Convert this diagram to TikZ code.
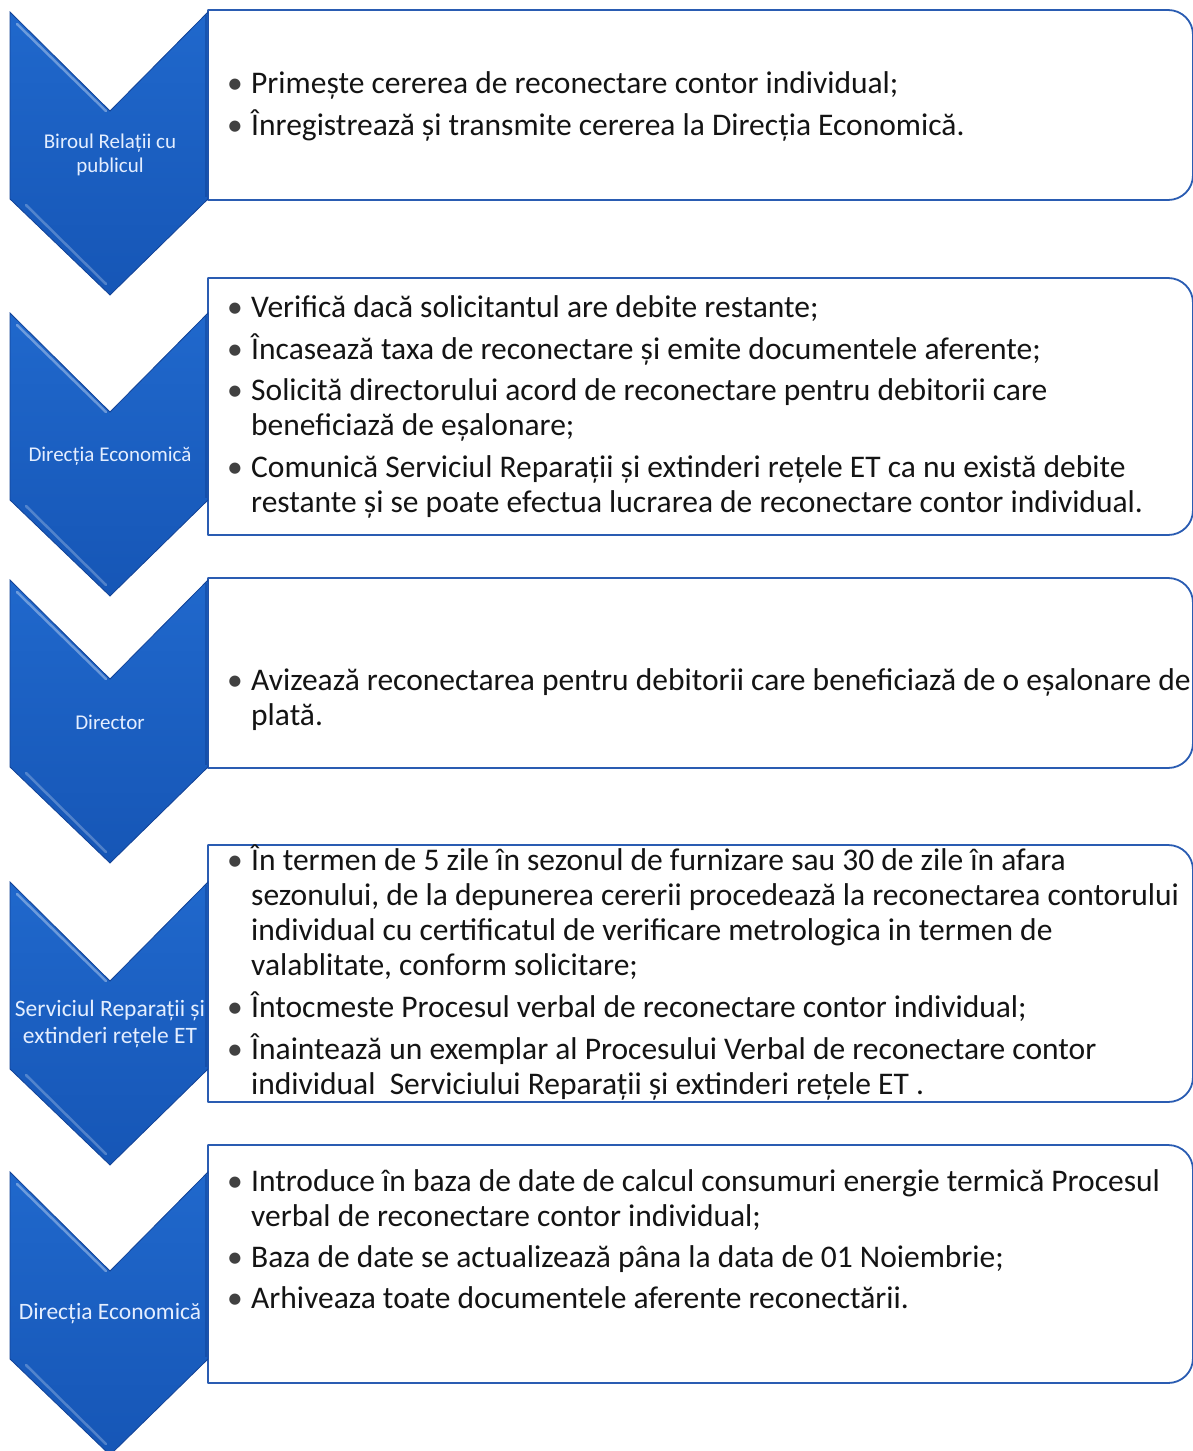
\documentclass[tikz,border=0pt]{standalone}
\usepackage{fontspec}
\setmainfont{Carlito}
\definecolor{chevtop}{RGB}{32,104,204}
\definecolor{chevbot}{RGB}{22,86,182}
\definecolor{chevedge}{RGB}{18,66,150}
\definecolor{boxline}{RGB}{42,92,178}
\definecolor{txtcol}{RGB}{20,20,20}
\definecolor{bulcol}{RGB}{65,65,65}
\definecolor{labcol}{RGB}{228,238,255}
\newcommand\bul{\makebox[24pt][l]{\textcolor{bulcol}{•}}}
\newcommand\chevron[1]{%
  \path[top color=chevtop,bottom color=chevbot,draw=chevedge,line width=0.8pt]
    (10,#1) -- (110,#1+99) -- (208,#1) -- (208,#1+187) -- (110,#1+283) -- (10,#1+187) -- cycle;
  \draw[white,opacity=0.35,line width=2.5pt,line cap=round] (17,#1+12) -- (106,#1+99);
  \draw[white,opacity=0.25,line width=2.5pt,line cap=round] (26,#1+193) -- (106,#1+272);
  \draw[chevedge,opacity=0.5,line width=1.5pt] (206,#1+3) -- (206,#1+185);
}
\newcommand\infobox[2]{%
  \draw[boxline,line width=1.8pt,line join=round]
    (208,#2) -- (208,#1) -- (1168,#1) .. controls (1182,#1) and (1193,#1+11) .. (1193,#1+25)
    -- (1193,#2-25) .. controls (1193,#2-11) and (1182,#2) .. (1168,#2) -- cycle;
}
\begin{document}
\begin{tikzpicture}[x=1pt,y=-1pt,
  txt/.style={anchor=base west,inner sep=0pt,text=txtcol,font=\fontsize{31.5}{35}\selectfont},
  lab/.style={align=center,inner sep=0pt,text=labcol,font=\fontsize{21}{24}\selectfont},
  labbig/.style={lab,font=\fontsize{23.5}{27}\selectfont}]
\useasboundingbox (0,0) rectangle (1193,1451);
\fill[white] (0,0) rectangle (1193,1451);
% boxes
\infobox{10}{200}
\infobox{278}{535}
\infobox{578}{768}
\infobox{845}{1102}
\infobox{1145}{1383}
% chevrons
\chevron{12}
\chevron{313}
\chevron{580}
\chevron{882}
\chevron{1172}
% chevron labels
\node[lab] (c1) at (110,155) {Biroul Relații cu\\publicul};
\node[lab] (c2) at (110,456) {Direcția Economică};
\node[lab] (c3) at (110,722) {Director};
\node[labbig] (c4) at (110,1024) {Serviciul Reparații și\\extinderi rețele ET};
\node[labbig] (c5) at (110,1314) {Direcția Economică};
% box 1
\node[txt] (a1) at (227,93) {\bul Primește cererea de reconectare contor individual;};
\node[txt] (a2) at (227,135) {\bul Înregistrează și transmite cererea la Direcția Economică.};
% box 2
\node[txt] (b1) at (227,317) {\bul Verifică dacă solicitantul are debite restante;};
\node[txt] (b2) at (227,359) {\bul Încasează taxa de reconectare și emite documentele aferente;};
\node[txt] (b3) at (227,400) {\bul Solicită directorului acord de reconectare pentru debitorii care};
\node[txt] (b3b) at (251,435) {beneficiază de eșalonare;};
\node[txt] (b4) at (227,477) {\bul Comunică Serviciul Reparații și extinderi rețele ET ca nu există debite};
\node[txt] (b4b) at (251,512) {restante și se poate efectua lucrarea de reconectare contor individual.};
% box 3
\node[txt] (d1) at (227,690) {\bul Avizează reconectarea pentru debitorii care beneficiază de o eșalonare de};
\node[txt] (d1b) at (251,725) {plată.};
% box 4
\node[txt] (e1) at (227,870) {\bul În termen de 5 zile în sezonul de furnizare sau 30 de zile în afara};
\node[txt] (e1b) at (251,905) {sezonului, de la depunerea cererii procedează la reconectarea contorului};
\node[txt] (e1c) at (251,940) {individual cu certificatul de verificare metrologica in termen de};
\node[txt] (e1d) at (251,975) {valablitate, conform solicitare;};
\node[txt] (e2) at (227,1017) {\bul Întocmeste Procesul verbal de reconectare contor individual;};
\node[txt] (e3) at (227,1059) {\bul Înaintează un exemplar al Procesului Verbal de reconectare contor};
\node[txt] (e3b) at (251,1094) {individual\ \ Serviciului Reparații și extinderi rețele ET .};
% box 5
\node[txt] (f1) at (227,1191) {\bul Introduce în baza de date de calcul consumuri energie termică Procesul};
\node[txt] (f1b) at (251,1226) {verbal de reconectare contor individual;};
\node[txt] (f2) at (227,1267) {\bul Baza de date se actualizează pâna la data de 01 Noiembrie;};
\node[txt] (f3) at (227,1308) {\bul Arhiveaza toate documentele aferente reconectării.};
\end{tikzpicture}
\end{document}
